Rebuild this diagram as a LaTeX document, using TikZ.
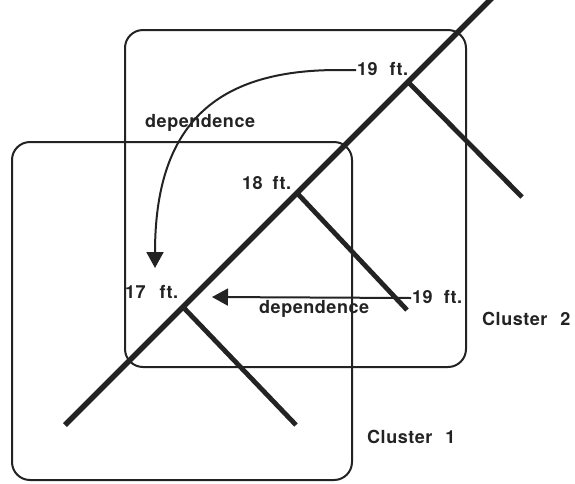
\documentclass[tikz,border=0pt]{standalone}
\usepackage{fontspec}
\setmainfont{TeX Gyre Heros}
\newfontfamily\lblfont[LetterSpace=3]{TeX Gyre Heros}
\usetikzlibrary{arrows.meta}
\definecolor{ink}{RGB}{35,35,35}
\begin{document}
\begin{tikzpicture}[x=1pt,y=-1pt,
  box/.style={draw=ink,line width=2pt,rounded corners=18pt},
  trunk/.style={draw=ink,line width=5.5pt},
  branch/.style={draw=ink,line width=4.8pt},
  dep/.style={draw=ink,line width=2pt,-{Triangle[length=16pt,width=17pt]}},
  lbl/.style={inner sep=0pt,anchor=base west,text=ink,font=\lblfont\bfseries\fontsize{18}{20}\selectfont}]
\clip (0,0) rectangle (575,483);
\useasboundingbox (0,0) rectangle (575,483);
% clusters
\draw[box] (12,142) rectangle (352,480);
\draw[box] (125,30) rectangle (466,367);
% tree
\coordinate (root) at (65,425);
\coordinate (j1) at (183,307);
\coordinate (j2) at (297,193);
\coordinate (j3) at (408,82);
\coordinate (tip) at (496,-6);
\coordinate (b1) at (296,425);
\coordinate (b2) at (407,310);
\coordinate (b3) at (522,197);
\draw[trunk] (root) -- (tip);
\draw[branch] (j1) -- (b1);
\draw[branch] (j2) -- (b2);
\draw[branch] (j3) -- (b3);
% labels
\node[lbl] (n19a) at (357,75) {19\hspace{12pt}ft.};
\node[lbl] (n18) at (242,189) {18\hspace{10pt}ft.};
\node[lbl] (n17) at (125,298) {17\hspace{14pt}ft.};
\node[lbl] (n19b) at (412,303) {19\hspace{11pt}ft.};
\node[lbl] (depA) at (145,127) {dependence};
\node[lbl] (depB) at (259,313) {dependence};
\node[lbl] (c2) at (482,325) {Cluster\hspace{13pt}2};
\node[lbl] (c1) at (367,443) {Cluster\hspace{13pt}1};
% dependence arrows
\coordinate (a1) at (155,268);
\coordinate (a2) at (212,297);
\draw[dep] ([xshift=-1pt,yshift=5pt]n19a.base west) -- (338,70) .. controls (215,70) and (155,125) .. (a1);
\draw[dep] ([xshift=-1pt,yshift=5pt]n19b.base west) -- (a2);
\end{tikzpicture}
\end{document}
